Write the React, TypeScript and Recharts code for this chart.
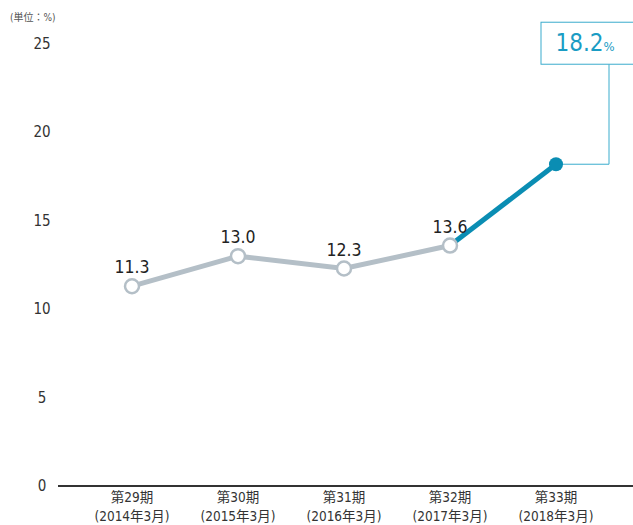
import { LineChart, Line, XAxis, YAxis } from 'recharts';

// 期ごとの数値 (単位: %)
const periods = ['第29期', '第30期', '第31期', '第32期', '第33期'];
const yearLabels = ['(2014年3月)', '(2015年3月)', '(2016年3月)', '(2017年3月)', '(2018年3月)'];
const pastValues = [11.3, 13.0, 12.3, 13.6, null];
const latestValues = [null, null, null, 13.6, 18.2];
const yTicks = [0, 5, 10, 15, 20, 25];

const data = periods.map((p, i) => ({
  period: p,
  year: yearLabels[i],
  past: pastValues[i],
  latest: latestValues[i],
}));

const FONT = "'DejaVu Sans Condensed', 'DejaVu Sans', 'Noto Sans CJK JP', sans-serif";
const GRAY = '#b4bfc7';
const BLUE = '#0a8db3';
const txt = { fontFamily: FONT, fontStretch: 'condensed' } as any;

function XTick(props: any) {
  const { x, y, payload, index } = props;
  return (
    <g style={txt}>
      <text x={x} y={y + 8} textAnchor="middle" fontSize={13.5} fill="#333">
        {payload.value}
      </text>
      <text x={x} y={y + 27} textAnchor="middle" fontSize={13.5} fill="#333">
        {yearLabels[index]}
      </text>
    </g>
  );
}

function YTick(props: any) {
  const { y, payload } = props;
  return (
    <text x={42} y={y + 5} textAnchor="middle" fontSize={15} fill="#333" style={txt}>
      {payload.value}
    </text>
  );
}

function PastDot(props: any) {
  const { cx, cy, value, index } = props;
  if (value == null) return <g key={`p-${index}`} />;
  return (
    <g key={`p-${index}`}>
      <circle cx={cx} cy={cy} r={7} fill="#fff" stroke={GRAY} strokeWidth={2.5} />
      <text x={cx} y={cy - 13} textAnchor="middle" fontSize={17.5} fill="#222" style={txt}>
        {value.toFixed(1)}
      </text>
    </g>
  );
}

function LatestDot(props: any) {
  const { cx, cy, value, index } = props;
  if (value == null || index !== periods.length - 1) return <g key={`l-${index}`} />;
  const elbowX = cx + 53;
  const boxTop = cy - 142;
  const boxBottom = cy - 100;
  return (
    <g key={`l-${index}`}>
      <polyline
        points={`${cx},${cy} ${elbowX},${cy} ${elbowX},${boxBottom}`}
        fill="none"
        stroke="#3aaccd"
        strokeWidth={1}
      />
      <rect x={cx - 15} y={boxTop} width={110} height={42} fill="#fff" stroke="#3aaccd" strokeWidth={1} />
      <text x={cx + 29} y={boxTop + 29} textAnchor="middle" fill="#1a9cc4" style={txt}>
        <tspan fontSize={24}>{value.toFixed(1)}</tspan>
        <tspan fontSize={13}>%</tspan>
      </text>
      <circle cx={cx} cy={cy} r={7} fill={BLUE} />
    </g>
  );
}

export default function App() {
  return (
    <div style={{ position: 'absolute', left: 0, top: 0, width: 633, height: 525, background: '#fff' }}>
      <div
        style={{
          position: 'absolute',
          left: 10,
          top: 9,
          fontSize: 10,
          color: '#555',
          ...txt,
        }}
      >
        (単位：%)
      </div>
      <LineChart width={633} height={525} data={data} margin={{ top: 44, right: 0, bottom: 0, left: 0 }}>
        <XAxis
          dataKey="period"
          scale="point"
          padding={{ left: 74, right: 77 }}
          axisLine={{ stroke: '#333', strokeWidth: 2 }}
          tickLine={false}
          tick={<XTick />}
          interval={0}
          height={39}
        />
        <YAxis
          domain={[0, 25]}
          ticks={yTicks}
          width={58}
          axisLine={false}
          tickLine={false}
          tick={<YTick />}
        />
        <Line
          dataKey="past"
          stroke={GRAY}
          strokeWidth={5}
          dot={<PastDot />}
          activeDot={false}
          isAnimationActive={false}
          connectNulls={false}
        />
        <Line
          dataKey="latest"
          stroke={BLUE}
          strokeWidth={5}
          dot={<LatestDot />}
          activeDot={false}
          isAnimationActive={false}
          connectNulls={false}
        />
      </LineChart>
    </div>
  );
}
